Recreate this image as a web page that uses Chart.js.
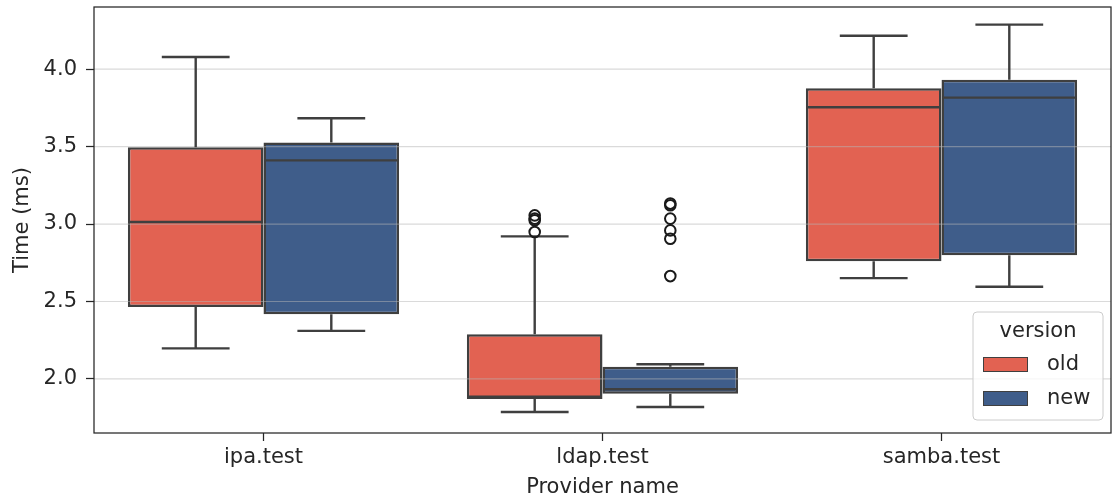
<!DOCTYPE html>
<html><head><meta charset="utf-8">
<script src="https://cdn.jsdelivr.net/npm/chart.js@4/dist/chart.umd.min.js"></script>
<style>html,body{margin:0;padding:0;background:#fff;}#wrap{width:1113px;height:500px;}</style>
</head><body><div id="wrap"><canvas id="c" width="1113" height="500"></canvas></div>
<script>
// ---- data ----
const categories = ['ipa.test', 'ldap.test', 'samba.test'];
const seriesNames = ['old', 'new'];
const legendTitle = 'version';
const xTitle = 'Provider name';
const yTitle = 'Time (ms)';

const oldWhiskerLow  = [2.197, 1.787, 2.651];
const oldQ1          = [2.464, 1.871, 2.759];
const oldMedian      = [3.013, 1.886, 3.754];
const oldQ3          = [3.495, 2.289, 3.877];
const oldWhiskerHigh = [4.078, 2.920, 4.215];
const oldOutliers    = [[], [2.949, 3.024, 3.035, 3.056], []];

const newWhiskerLow  = [2.310, 1.819, 2.595];
const newQ1          = [2.418, 1.905, 2.798];
const newMedian      = [3.411, 1.933, 3.816];
const newQ3          = [3.526, 2.078, 3.931];
const newWhiskerHigh = [3.683, 2.095, 4.287];
const newOutliers    = [[], [2.664, 2.905, 2.959, 3.035, 3.121, 3.132], []];

const yTickValues = [2.0, 2.5, 3.0, 3.5, 4.0];
const yMin = 1.651, yMax = 4.401;

const colors = ['#e26252', '#3f5d8a'];
const lineColor = '#3f3f3f';
const textColor = '#262626';
const FONT = '"DejaVu Sans", sans-serif';

const stats = [
  {low: oldWhiskerLow, q1: oldQ1, med: oldMedian, q3: oldQ3, high: oldWhiskerHigh, out: oldOutliers},
  {low: newWhiskerLow, q1: newQ1, med: newMedian, q3: newQ3, high: newWhiskerHigh, out: newOutliers}
];

const boxPlugin = {
  id: 'boxExtras',
  afterDatasetsDraw(chart) {
    const ctx = chart.ctx, ca = chart.chartArea, ys = chart.scales.y;
    // grid lines over the boxes
    ctx.save();
    ctx.strokeStyle = 'rgba(182,182,182,0.5)';
    ctx.lineWidth = 1.2;
    ys.ticks.forEach(t => {
      const y = ys.getPixelForValue(t.value);
      ctx.beginPath(); ctx.moveTo(ca.left, y); ctx.lineTo(ca.right, y); ctx.stroke();
    });
    ctx.restore();
    // whiskers, caps, medians, outliers
    ctx.save();
    ctx.strokeStyle = lineColor;
    ctx.lineWidth = 2.4;
    ctx.lineCap = 'butt';
    stats.forEach((s, di) => {
      const meta = chart.getDatasetMeta(di);
      meta.data.forEach((bar, j) => {
        const x = bar.x, w = bar.width;
        const half = w / 2, cap = w / 4;
        const pLow = ys.getPixelForValue(s.low[j]);
        const pQ1 = ys.getPixelForValue(s.q1[j]);
        const pQ3 = ys.getPixelForValue(s.q3[j]);
        const pHigh = ys.getPixelForValue(s.high[j]);
        const pMed = ys.getPixelForValue(s.med[j]);
        ctx.beginPath();
        ctx.moveTo(x, pQ3); ctx.lineTo(x, pHigh);
        ctx.moveTo(x - cap, pHigh); ctx.lineTo(x + cap, pHigh);
        ctx.moveTo(x, pQ1); ctx.lineTo(x, pLow);
        ctx.moveTo(x - cap, pLow); ctx.lineTo(x + cap, pLow);
        ctx.moveTo(x - half + 1, pMed); ctx.lineTo(x + half - 1, pMed);
        ctx.stroke();
        ctx.save();
        ctx.strokeStyle = '#1a1a1a';
        ctx.lineWidth = 2;
        s.out[j].forEach(v => {
          const py = ys.getPixelForValue(v);
          ctx.beginPath(); ctx.arc(x, py, 5.3, 0, Math.PI * 2); ctx.stroke();
        });
        ctx.restore();
      });
    });
    ctx.restore();
  },
  afterDraw(chart) {
    const ctx = chart.ctx, ca = chart.chartArea;
    ctx.save();
    // frame
    ctx.strokeStyle = textColor;
    ctx.lineWidth = 1.25;
    ctx.strokeRect(ca.left, ca.top, ca.right - ca.left, ca.bottom - ca.top);
    // legend
    const w = 130, h = 108;
    const lx = ca.right - 8 - w, ly = ca.bottom - 13 - h;
    const r = 4;
    ctx.beginPath();
    ctx.moveTo(lx + r, ly);
    ctx.arcTo(lx + w, ly, lx + w, ly + h, r);
    ctx.arcTo(lx + w, ly + h, lx, ly + h, r);
    ctx.arcTo(lx, ly + h, lx, ly, r);
    ctx.arcTo(lx, ly, lx + w, ly, r);
    ctx.closePath();
    ctx.fillStyle = 'rgba(255,255,255,0.8)';
    ctx.fill();
    ctx.strokeStyle = '#cccccc';
    ctx.lineWidth = 1;
    ctx.stroke();
    ctx.fillStyle = textColor;
    ctx.font = '21px ' + FONT;
    ctx.textBaseline = 'middle';
    ctx.textAlign = 'center';
    ctx.fillText(legendTitle, lx + w / 2, ly + 20);
    ctx.textAlign = 'left';
    chart.data.datasets.forEach((ds, i) => {
      const py = ly + 45 + i * 34;
      ctx.fillStyle = ds.backgroundColor;
      ctx.fillRect(lx + 10, py, 45, 15);
      ctx.strokeStyle = lineColor;
      ctx.lineWidth = 1;
      ctx.strokeRect(lx + 10.5, py + 0.5, 44, 14);
      ctx.fillStyle = textColor;
      ctx.fillText(ds.label, lx + 74, py + 8);
    });
    ctx.restore();
  }
};

new Chart(document.getElementById('c'), {
  type: 'bar',
  data: {
    labels: categories,
    datasets: seriesNames.map((name, i) => ({
      label: name,
      data: categories.map((c, j) => [stats[i].q1[j], stats[i].q3[j]]),
      backgroundColor: colors[i],
      borderColor: lineColor,
      borderWidth: 2.5,
      borderSkipped: false,
      categoryPercentage: 0.8,
      barPercentage: 1.0
    }))
  },
  options: {
    responsive: false,
    animation: false,
    devicePixelRatio: 1,
    layout: {padding: {top: 7, right: 2, left: 0, bottom: 0}},
    plugins: {legend: {display: false}, tooltip: {enabled: false}},
    scales: {
      x: {
        type: 'category',
        offset: true,
        grid: {display: true, offset: false, drawOnChartArea: false, drawTicks: true, tickLength: 8, tickColor: textColor, tickWidth: 1.25},
        border: {display: false},
        ticks: {color: textColor, font: {family: FONT, size: 21}, padding: 4, maxRotation: 0},
        title: {display: true, text: xTitle, color: textColor, font: {family: FONT, size: 21}, padding: {top: 0, bottom: 0}},
        afterFit: s => { s.height = 67; s.paddingLeft = 0; s.paddingRight = 0; }
      },
      y: {
        type: 'linear',
        min: yMin, max: yMax,
        grid: {display: true, drawOnChartArea: false, drawTicks: true, tickLength: 8, tickColor: textColor, tickWidth: 1.25},
        border: {display: false},
        afterBuildTicks: s => { s.ticks = yTickValues.map(v => ({value: v})); },
        ticks: {color: textColor, font: {family: FONT, size: 21}, padding: 9, callback: v => Number(v).toFixed(1)},
        title: {display: true, text: yTitle, color: textColor, font: {family: FONT, size: 21}, padding: {top: 10, bottom: 0}},
        afterFit: s => { s.width = 94; s.paddingTop = 0; s.paddingBottom = 0; }
      }
    }
  },
  plugins: [boxPlugin]
});
</script>
</body></html>
